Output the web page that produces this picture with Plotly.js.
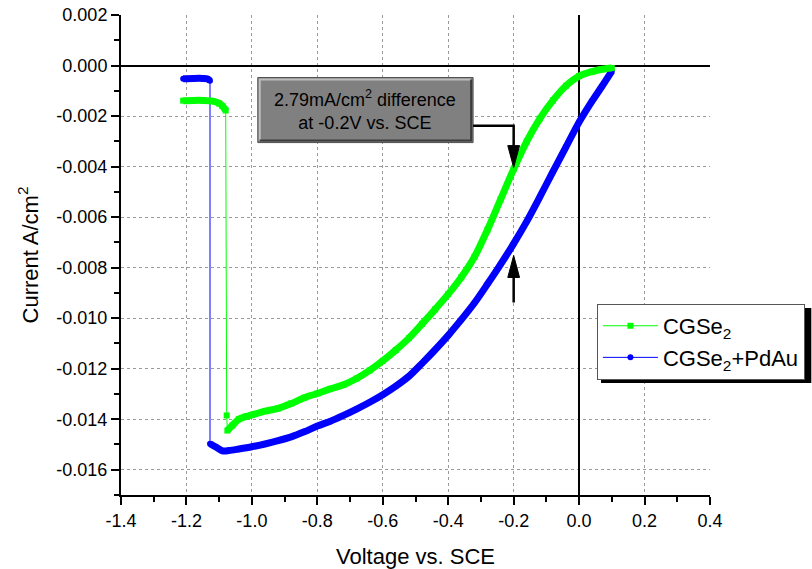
<!DOCTYPE html>
<html><head><meta charset="utf-8">
<script src="https://cdn.plot.ly/plotly-3.0.1.min.js"></script>
<style>html,body{margin:0;padding:0;background:#fff}</style>
</head><body><div id="chart" style="width:812px;height:569px"></div>
<script>
// CGSe2 (green)
const greenV = [-1.21,-1.18,-1.15,-1.12,-1.10,-1.09,-1.08,-1.077,-1.075,-1.06,-1.04,-1.02,-1.00,-0.96,-0.92,-0.88,-0.84,-0.80,-0.76,-0.72,-0.68,-0.64,-0.60,-0.56,-0.52,-0.48,-0.44,-0.40,-0.36,-0.32,-0.28,-0.24,-0.20,-0.16,-0.12,-0.08,-0.04,0.00,0.04,0.07,0.10];
const greenI = [-0.00139,-0.00138,-0.00138,-0.00141,-0.00150,-0.00160,-0.00178,-0.01385,-0.01445,-0.01425,-0.01400,-0.01390,-0.01383,-0.01368,-0.01357,-0.01338,-0.01315,-0.01298,-0.01280,-0.01264,-0.01239,-0.01207,-0.01169,-0.01126,-0.01079,-0.01023,-0.00965,-0.00905,-0.00838,-0.00758,-0.00650,-0.00530,-0.00410,-0.00300,-0.00210,-0.00138,-0.00080,-0.00042,-0.00024,-0.00015,-0.00010];
// CGSe2+PdAu (blue)
const blueV = [-1.21,-1.18,-1.15,-1.135,-1.128,-1.128,-1.11,-1.09,-1.07,-1.04,-1.00,-0.96,-0.92,-0.88,-0.84,-0.80,-0.76,-0.72,-0.68,-0.64,-0.60,-0.56,-0.52,-0.48,-0.44,-0.40,-0.36,-0.32,-0.28,-0.24,-0.20,-0.16,-0.12,-0.08,-0.04,0.00,0.04,0.07,0.10];
const blueI = [-0.00052,-0.00051,-0.00051,-0.00053,-0.00060,-0.01497,-0.01510,-0.01525,-0.01524,-0.01518,-0.01509,-0.01498,-0.01485,-0.01470,-0.01450,-0.01427,-0.01408,-0.01385,-0.01360,-0.01333,-0.01303,-0.01269,-0.01230,-0.01179,-0.01125,-0.01068,-0.01006,-0.00940,-0.00865,-0.00787,-0.00705,-0.00617,-0.00520,-0.00420,-0.00322,-0.00224,-0.00140,-0.00082,-0.00022];

const seriesNames = ['CGSe<sub>2</sub>', 'CGSe<sub>2</sub>+PdAu'];
const xTickVals = [-1.4,-1.2,-1.0,-0.8,-0.6,-0.4,-0.2,0.0,0.2,0.4];
const xTickText = ['-1.4','-1.2','-1.0','-0.8','-0.6','-0.4','-0.2','0.0','0.2','0.4'];
const yTickVals = [0.002,0.000,-0.002,-0.004,-0.006,-0.008,-0.010,-0.012,-0.014,-0.016];
const yTickText = ['0.002','0.000','-0.002','-0.004','-0.006','-0.008','-0.010','-0.012','-0.014','-0.016'];
const noteText = '2.79mA/cm<sup>2</sup> difference<br>at -0.2V vs. SCE';

const FONT = 'Liberation Sans, Arial, Helvetica, sans-serif';

// split the dense (thick) part where the current drops sharply (sparse jump)
function thickSegments(V, I) {
  const xs = [], ys = [];
  for (let i = 0; i < V.length; i++) {
    if (i > 0 && I[i] - I[i-1] < -0.0005) { xs.push(null); ys.push(null); }
    xs.push(V[i]); ys.push(I[i]);
  }
  return {x: xs, y: ys};
}
const gSeg = thickSegments(greenV, greenI);
const bSeg = thickSegments(blueV, blueI);

const traces = [
  {x: blueV, y: blueI, name: seriesNames[1], legendrank: 2, mode: 'lines+markers',
   line: {color: '#0000ff', width: 1}, marker: {color: '#0000ff', symbol: 'circle', size: 6}},
  {x: bSeg.x, y: bSeg.y, mode: 'lines', showlegend: false, hoverinfo: 'skip', connectgaps: false,
   line: {color: '#0000ff', width: 7, shape: 'spline', smoothing: 0.9}},
  {x: greenV, y: greenI, name: seriesNames[0], legendrank: 1, mode: 'lines+markers',
   line: {color: '#00ff00', width: 1}, marker: {color: '#00ff00', symbol: 'square', size: 6}},
  {x: gSeg.x, y: gSeg.y, mode: 'lines', showlegend: false, hoverinfo: 'skip', connectgaps: false,
   line: {color: '#00ff00', width: 7, shape: 'spline', smoothing: 0.9}}
];

const axisCommon = {
  ticks: 'outside', ticklen: 8, tickwidth: 2, tickcolor: '#000',
  showline: true, linecolor: '#000', linewidth: 2,
  showgrid: true, gridcolor: '#9a9a9a', griddash: 'dot', gridwidth: 1,
  zeroline: true, zerolinecolor: '#000', zerolinewidth: 2,
  tickfont: {family: FONT, size: 18, color: '#000'},
  automargin: false, fixedrange: true
};

const layout = {
  width: 812, height: 569,
  margin: {l: 121, r: 102, t: 15, b: 74, autoexpand: false},
  paper_bgcolor: '#fff', plot_bgcolor: '#fff',
  font: {family: FONT, color: '#000'},
  showlegend: true,
  xaxis: Object.assign({}, axisCommon, {
    range: [-1.4, 0.4], tickmode: 'array', tickvals: xTickVals, ticktext: xTickText,
    minor: {tickmode: 'linear', tick0: 0, dtick: 0.1, ticks: 'outside', ticklen: 5, tickwidth: 2, tickcolor: '#000', showgrid: false},
    title: {text: 'Voltage vs. SCE', font: {family: FONT, size: 22, color: '#000'}, standoff: 19}
  }),
  yaxis: Object.assign({}, axisCommon, {
    range: [-0.017, 0.002], tickmode: 'array', tickvals: yTickVals, ticktext: yTickText,
    minor: {tickmode: 'linear', tick0: 0, dtick: 0.001, ticks: 'outside', ticklen: 5, tickwidth: 2, tickcolor: '#000', showgrid: false},
    title: {text: 'Current A/cm<sup>2</sup>', font: {family: FONT, size: 22, color: '#000'}, standoff: 12}
  }),
  legend: {
    x: 0.808, y: 0.398, xanchor: 'left', yanchor: 'top',
    bgcolor: '#fff', bordercolor: '#555', borderwidth: 1,
    font: {family: FONT, size: 22, color: '#000'}, itemwidth: 55, tracegroupgap: 0
  },
  shapes: [
    // legend drop shadow
    {type: 'rect', xref: 'paper', yref: 'paper', x0: 0.815, x1: 1.172, y0: 0.2335, y1: 0.3896,
     fillcolor: '#000', line: {width: 0}, layer: 'above'},
    // note box
    {type: 'rect', xref: 'x', yref: 'y', x0: -0.982, x1: -0.324, y0: -0.000475, y1: -0.00305,
     fillcolor: '#808080', line: {color: '#505050', width: 1}, layer: 'above'},
    {type: 'path', xref: 'x', yref: 'y', path: 'M-0.976,-0.00297 L-0.976,-0.00055 L-0.330,-0.00055',
     line: {color: '#bdbdbd', width: 2}, layer: 'above'},
    {type: 'path', xref: 'x', yref: 'y', path: 'M-0.976,-0.00297 L-0.330,-0.00297 L-0.330,-0.00055',
     line: {color: '#3c3c3c', width: 2}, layer: 'above'},
    // connector + down arrow
    {type: 'path', xref: 'x', yref: 'y', path: 'M-0.324,-0.00238 L-0.2,-0.00238 L-0.2,-0.0032',
     line: {color: '#000', width: 2.5}, layer: 'above'},
    {type: 'path', xref: 'x', yref: 'y', path: 'M-0.218,-0.00317 L-0.182,-0.00317 L-0.2,-0.00404 Z',
     fillcolor: '#000', line: {color: '#000', width: 1}, layer: 'above'},
    // up arrow
    {type: 'path', xref: 'x', yref: 'y', path: 'M-0.2,-0.00938 L-0.2,-0.0083',
     line: {color: '#000', width: 2.5}, layer: 'above'},
    {type: 'path', xref: 'x', yref: 'y', path: 'M-0.218,-0.00839 L-0.182,-0.00839 L-0.2,-0.00752 Z',
     fillcolor: '#000', line: {color: '#000', width: 1}, layer: 'above'}
  ],
  annotations: [
    {x: -0.653, y: -0.00176, xref: 'x', yref: 'y', text: noteText, showarrow: false,
     align: 'center', font: {family: FONT, size: 18, color: '#000'}}
  ]
};

Plotly.newPlot('chart', traces, layout, {displayModeBar: false, staticPlot: true});
</script>
</body></html>
